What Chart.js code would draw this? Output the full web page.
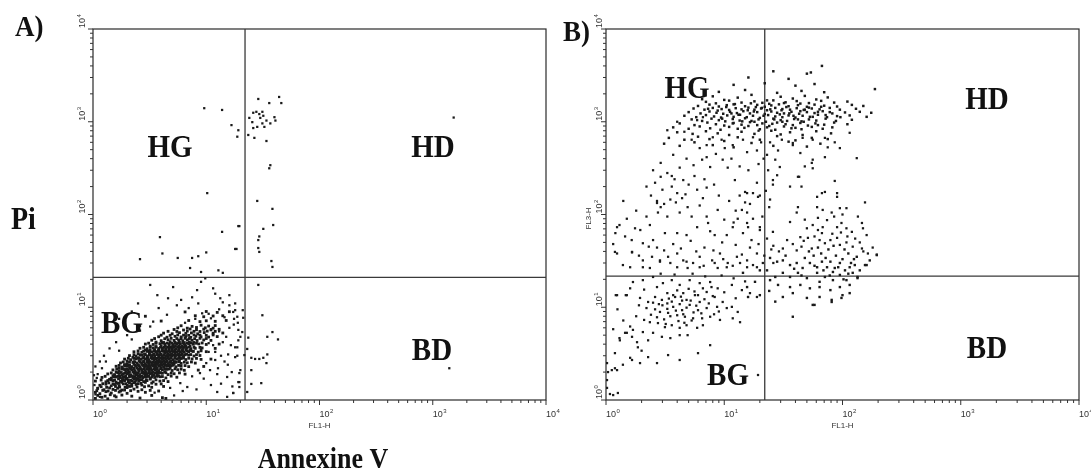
<!DOCTYPE html>
<html>
<head>
<meta charset="utf-8">
<script src="https://cdn.jsdelivr.net/npm/chart.js@4.4.1/dist/chart.umd.min.js"></script>
<style>
  body { margin: 0; background: #fff; width: 1091px; height: 476px; position: relative; overflow: hidden; }
  canvas { position: absolute; top: 0; }
</style>
</head>
<body>
<canvas id="panelA" width="560" height="476" style="left:0"></canvas>
<canvas id="panelB" width="531" height="476" style="left:560px"></canvas>
<script>
// axis: 4-decade log scale, FL1-H (Annexine V) vs FL3-H (Pi)
const decades = [1, 10, 100, 1000, 10000];
const decadeExponents = ["0", "1", "2", "3", "4"];
const quadrantNames = ["HG", "HD", "BG", "BD"];
const gateA = [22, 21];
const gateB = [22, 21.7];

// ---- panel A events [FL1, FL3] ----
const aBGCluster = [
  [1.05,1.04],[1.2,1.07],[1.35,1.03],[1.6,1.08],[2.6,1.05],[4.1,1.06],[4.4,1.04],
  [1.05,1.21],[1.15,1.17],[1.3,1.23],[1.45,1.19],[1.7,1.22],[2.0,1.18],[2.9,1.21],
  [1.1,1.33],[1.25,1.29],[1.4,1.35],[1.5,1.3],[1.65,1.34],[1.8,1.28],[2.0,1.36],[2.3,1.31],[2.7,1.29],
  [1.15,1.44],[1.3,1.48],[1.45,1.42],[1.55,1.47],[1.7,1.43],[1.85,1.49],[2.0,1.44],[2.2,1.41],[2.4,1.47],[2.7,1.45],[3.1,1.42],[3.6,1.48],
  [1.38,1.53],[1.62,1.51],[1.8,1.55],[2.1,1.52],[2.3,1.54],[2.5,1.5],[2.9,1.55],
  [1.05,1.6],[1.3,1.57],[1.5,1.61],[1.6,1.56],[1.75,1.59],[1.9,1.62],[2.05,1.57],[2.2,1.6],[2.35,1.56],[2.55,1.61],[2.8,1.58],[3.0,1.62],[3.4,1.57],[3.9,1.6],[4.6,1.58],
  [1.4,1.67],[1.55,1.64],[1.68,1.69],[1.82,1.65],[1.97,1.68],[2.15,1.63],[2.3,1.67],[2.5,1.7],[2.7,1.65],[3.2,1.68],
  [1.2,1.75],[1.45,1.72],[1.6,1.77],[1.75,1.73],[1.85,1.76],[2.0,1.71],[2.1,1.78],[2.25,1.74],[2.4,1.72],[2.6,1.77],[2.75,1.73],[2.95,1.76],[3.2,1.71],[3.5,1.75],[3.9,1.78],[4.4,1.73],[5.5,1.76],
  [1.5,1.83],[1.65,1.8],[1.8,1.85],[1.95,1.81],[2.1,1.84],[2.25,1.79],[2.4,1.86],[2.55,1.82],[2.7,1.8],[2.9,1.85],[3.1,1.81],[3.35,1.84],[3.8,1.82],
  [1.35,1.91],[1.55,1.88],[1.7,1.93],[1.85,1.89],[2.0,1.92],[2.15,1.87],[2.3,1.94],[2.45,1.9],[2.6,1.88],[2.8,1.93],[3.0,1.89],[3.2,1.92],[3.45,1.87],[3.7,1.91],[4.1,1.94],[4.6,1.88],[5.2,1.92],[6.5,1.9],
  [1.6,2.01],[1.78,1.98],[1.95,2.03],[2.1,1.99],[2.25,2.02],[2.4,1.97],[2.55,2.04],[2.75,2.0],[2.95,1.98],[3.15,2.03],[3.4,1.99],[3.65,2.02],[3.95,1.97],[4.3,2.01],
  [1.5,2.11],[1.7,2.07],[1.9,2.13],[2.05,2.09],[2.2,2.12],[2.35,2.06],[2.5,2.14],[2.7,2.1],[2.9,2.08],[3.1,2.13],[3.3,2.09],[3.55,2.12],[3.8,2.07],[4.1,2.11],[4.5,2.14],[5.0,2.08],[5.6,2.12],[6.4,2.09],[8.5,2.1],
  [1.7,2.21],[1.85,2.18],[2.1,2.23],[2.3,2.19],[2.45,2.22],[2.65,2.17],[2.85,2.24],[3.05,2.2],[3.25,2.18],[3.5,2.23],[3.7,2.19],[4.0,2.22],[4.35,2.17],[4.8,2.21],
  [1.6,2.31],[1.8,2.27],[2.0,2.33],[2.2,2.29],[2.4,2.32],[2.6,2.26],[2.8,2.34],[3.0,2.3],[3.2,2.28],[3.4,2.33],[3.6,2.29],[3.9,2.32],[4.2,2.27],[4.5,2.31],[4.9,2.34],[5.4,2.28],[6.0,2.32],[7.0,2.29],[9.5,2.3],
  [1.9,2.41],[2.1,2.37],[2.3,2.43],[2.5,2.39],[2.7,2.42],[2.9,2.36],[3.1,2.44],[3.3,2.4],[3.5,2.38],[3.7,2.43],[3.95,2.39],[4.2,2.42],[4.5,2.37],[4.8,2.41],[5.2,2.44],
  [1.75,2.51],[2.0,2.47],[2.25,2.54],[2.45,2.49],[2.7,2.52],[2.9,2.46],[3.1,2.55],[3.3,2.5],[3.5,2.48],[3.75,2.53],[4.0,2.49],[4.3,2.52],[4.6,2.47],[5.0,2.51],[5.4,2.55],[6.0,2.48],[6.8,2.52],[8.0,2.5],
  [2.0,2.63],[2.3,2.59],[2.55,2.66],[2.8,2.61],[3.0,2.64],[3.2,2.58],[3.45,2.67],[3.7,2.62],[3.95,2.6],[4.2,2.65],[4.5,2.61],[4.85,2.64],[5.3,2.59],[5.8,2.63],
  [1.9,2.76],[2.15,2.72],[2.4,2.79],[2.65,2.74],[2.9,2.77],[3.1,2.71],[3.35,2.8],[3.6,2.75],[3.85,2.73],[4.1,2.78],[4.4,2.74],[4.7,2.77],[5.1,2.72],[5.5,2.76],[6.0,2.8],[6.6,2.73],[7.5,2.77],[9.0,2.74],[11,2.76],
  [2.25,2.89],[2.55,2.85],[2.8,2.92],[3.05,2.87],[3.3,2.9],[3.55,2.84],[3.8,2.93],[4.05,2.88],[4.3,2.86],[4.6,2.91],[4.9,2.87],[5.3,2.9],[5.7,2.85],[6.2,2.89],
  [2.1,3.01],[2.4,2.97],[2.7,3.04],[3.0,2.99],[3.25,3.02],[3.5,2.96],[3.8,3.05],[4.1,3.0],[4.4,2.98],[4.7,3.03],[5.0,2.99],[5.4,3.02],[5.8,2.97],[6.3,3.01],[7.0,3.04],[7.8,2.98],[8.8,3.02],
  [2.5,3.16],[2.85,3.12],[3.15,3.19],[3.45,3.14],[3.7,3.17],[4.0,3.11],[4.3,3.2],[4.6,3.15],[4.95,3.13],[5.3,3.18],[5.7,3.14],[6.1,3.17],[6.7,3.12],
  [2.3,3.31],[2.7,3.27],[3.0,3.34],[3.3,3.29],[3.6,3.32],[3.9,3.26],[4.2,3.35],[4.5,3.3],[4.8,3.28],[5.1,3.33],[5.5,3.29],[5.9,3.32],[6.4,3.27],[7.0,3.31],[7.7,3.34],[8.5,3.28],[10,3.32],
  [2.9,3.46],[3.2,3.42],[3.5,3.49],[3.8,3.44],[4.1,3.47],[4.4,3.41],[4.7,3.5],[5.0,3.45],[5.3,3.43],[5.7,3.48],[6.1,3.44],[6.6,3.47],[7.2,3.42],
  [2.6,3.61],[3.0,3.57],[3.4,3.64],[3.8,3.59],[4.1,3.62],[4.4,3.56],[4.7,3.65],[5.0,3.6],[5.4,3.58],[5.8,3.63],[6.2,3.59],[6.7,3.62],[7.3,3.57],[8.0,3.61],[9.2,3.64],[12,3.6],
  [3.2,3.81],[3.6,3.77],[4.0,3.84],[4.35,3.79],[4.7,3.82],[5.0,3.76],[5.35,3.85],[5.7,3.8],[6.1,3.78],[6.6,3.83],[7.2,3.79],
  [2.9,4.01],[3.4,3.97],[3.9,4.05],[4.3,3.99],[4.7,4.03],[5.1,3.96],[5.5,4.06],[5.9,4.0],[6.4,3.98],[7.0,4.04],[7.7,3.99],[8.6,4.02],[10,3.97],[13,4.01],
  [3.6,4.21],[4.2,4.17],[4.8,4.25],[5.3,4.19],[5.8,4.23],[6.4,4.16],[7.1,4.22],
  [3.3,4.41],[4.0,4.36],[4.6,4.45],[5.2,4.39],[5.7,4.43],[6.2,4.35],[6.8,4.46],[7.5,4.4],[8.3,4.38],[9.5,4.44],[11,4.39],
  [3.8,4.81],[4.5,4.75],[5.3,4.86],[6.0,4.79],[6.6,4.84],[7.3,4.74],[8.1,4.87],[9.0,4.8],[10.5,4.77],[12.5,4.83],
  [4.2,5.26],[5.0,5.18],[5.8,5.32],[6.6,5.22],[7.4,5.29],[8.4,5.17],[9.6,5.33],[11.5,5.24],[14,5.28],
  [5.2,5.76],[6.3,5.68],[7.2,5.83],[8.2,5.72],[9.5,5.8],[11,5.7],[13,5.78],
  [6.0,6.32],[7.5,6.22],[9.0,6.4],[10.5,6.27],[12,6.35],
  [4.0,7.1],[7.0,7.2],[8.8,7.0],[10,7.15],[12,7.05],[15,7.2],
  [2.9,8.0],[8.0,8.1],[9.5,7.9],[11.5,8.05],[14,8.1],
  [6.5,8.9],[10,9.0],[12.5,8.8],[16,8.95]
];
const aBGCoreFill = [
  [1.1,1.12],[1.28,1.1],[1.42,1.14],[1.55,1.11],[1.8,1.13],[2.2,1.1],[3.3,1.12],
  [1.08,1.26],[1.22,1.27],[1.36,1.25],[1.58,1.27],[1.75,1.25],[1.9,1.28],[2.15,1.26],[2.5,1.24],[3.2,1.27],[3.8,1.25],
  [1.18,1.39],[1.32,1.37],[1.58,1.4],[1.72,1.38],[1.92,1.37],[2.1,1.4],[2.45,1.38],[2.85,1.39],[3.3,1.37],[4.2,1.4],
  [1.22,1.5],[1.5,1.49],[1.7,1.52],[1.95,1.5],[2.2,1.48],[2.65,1.51],[3.3,1.52],[4.0,1.49],
  [1.18,1.64],[1.35,1.62],[1.45,1.65],[1.85,1.66],[2.05,1.64],[2.42,1.63],[2.6,1.66],[2.95,1.64],[3.6,1.65],[4.2,1.62],
  [1.28,1.8],[1.52,1.78],[1.72,1.8],[1.92,1.77],[2.18,1.81],[2.33,1.79],[2.5,1.8],[2.85,1.78],[3.05,1.8],[3.3,1.77],[3.65,1.8],[4.1,1.79],[4.9,1.81],
  [1.45,1.96],[1.65,1.97],[1.9,1.95],[2.05,1.97],[2.33,1.95],[2.5,1.96],[2.7,1.97],[2.9,1.95],[3.1,1.96],[3.3,1.97],[3.55,1.95],[3.85,1.96],[4.4,1.97],[4.9,1.95],[5.8,1.96],
  [1.62,2.16],[1.8,2.15],[1.98,2.17],[2.15,2.15],[2.3,2.16],[2.6,2.17],[2.8,2.15],[3.0,2.16],[3.2,2.17],[3.45,2.15],[3.65,2.16],[3.95,2.17],[4.3,2.15],[4.7,2.16],[5.3,2.17],[6.0,2.15],
  [1.7,2.36],[1.9,2.35],[2.1,2.37],[2.35,2.36],[2.55,2.35],[2.75,2.37],[2.95,2.36],[3.15,2.35],[3.35,2.37],[3.55,2.36],[3.8,2.35],[4.05,2.37],[4.35,2.36],[4.7,2.35],[5.1,2.37],[5.7,2.36],[6.5,2.35],
  [1.85,2.57],[2.1,2.56],[2.35,2.58],[2.6,2.56],[2.8,2.57],[3.0,2.56],[3.2,2.58],[3.4,2.56],[3.6,2.57],[3.85,2.56],[4.1,2.58],[4.4,2.56],[4.75,2.57],[5.2,2.56],[5.7,2.58],[6.4,2.56],[7.4,2.57],
  [2.05,2.82],[2.3,2.81],[2.5,2.83],[2.75,2.82],[3.0,2.81],[3.25,2.83],[3.45,2.82],[3.7,2.81],[3.95,2.83],[4.25,2.82],[4.55,2.81],[4.85,2.83],[5.3,2.82],[5.8,2.81],[6.3,2.83],[7.0,2.82],[8.2,2.81],
  [2.3,3.08],[2.6,3.07],[2.9,3.09],[3.15,3.08],[3.4,3.07],[3.65,3.09],[3.95,3.08],[4.25,3.07],[4.55,3.09],[4.85,3.08],[5.2,3.07],[5.6,3.09],[6.0,3.08],[6.5,3.07],[7.3,3.09],[8.2,3.08],
  [2.5,3.38],[2.8,3.37],[3.15,3.39],[3.45,3.38],[3.75,3.37],[4.05,3.39],[4.35,3.38],[4.65,3.37],[4.95,3.39],[5.3,3.38],[5.7,3.37],[6.2,3.39],[6.8,3.38],[7.5,3.37],[9,3.39],
  [2.8,3.7],[3.2,3.69],[3.6,3.71],[3.95,3.7],[4.25,3.69],[4.55,3.71],[4.85,3.7],[5.2,3.69],[5.6,3.71],[6.0,3.7],[6.4,3.69],[7.0,3.71],[7.8,3.7],[8.8,3.69],
  [3.1,4.1],[3.6,4.09],[4.1,4.12],[4.5,4.1],[4.95,4.09],[5.3,4.12],[5.7,4.1],[6.2,4.09],[6.8,4.12],[7.4,4.1],[8.2,4.09],[9.2,4.12],
  [3.5,4.6],[4.3,4.58],[4.9,4.62],[5.5,4.6],[6.0,4.58],[6.5,4.62],[7.1,4.6],[7.9,4.58],[8.8,4.62],[10,4.6],
  [4.0,5.0],[4.8,4.98],[5.6,5.03],[6.3,5.0],[7.0,4.98],[7.8,5.03],[8.8,5.0],[10,4.98],[11.5,5.03],
  [4.6,5.5],[5.5,5.48],[6.8,5.53],[7.8,5.5],[8.8,5.48],[10.2,5.53],[12,5.5],
  [5.6,6.0],[6.8,5.95],[8.2,6.05],[9.8,6.0],[11.5,5.95]
];
const aBGHalo = [
  [6.5,3.9],[7.8,4.2],[9,3.5],[10.5,4.1],[12,3.3],[13,5.5],[15,4.8],[16.5,3.9],[17.5,6.5],[14.5,7.8],
  [11,7.6],[9.2,8.6],[13,9.5],[16,10.5],[7,9.8],[5.5,10.5],[4.5,8.3],[3.4,7.0],[2.6,6.3],[2.0,5.0],
  [1.6,4.2],[1.4,3.6],[1.25,3.0],[1.15,2.6],[1.05,2.3],[1.02,1.85],[1.03,1.45],[1.05,1.15],[7.5,1.8],[9.5,1.7],
  [11,1.45],[8.2,1.3],[6.2,1.25],[5.2,1.12],[3.5,1.2],[4.8,1.35],[12.5,1.9],[14.5,2.6],[16.8,2.0],[18,2.9],
  [17,1.4],[10,2.5],[13.5,3.0],[11.5,3.9],[20,4.8],[19,6.8],[18,11],[16,13.5],[12,14],[8.5,11],
  [6,12],[4.6,12.5],[2.2,9],[1.7,7.5],[1.3,5.5],[6.5,6.8],[8,7.5],[10.5,8.5]
];
const aBGSparse = [
  [3.2,17.4],[5.1,16.5],[3.7,13.5],[2.5,11],[3.8,9.8],[7.5,12.8],[9.0,18.8],[9.8,20.5],[8.3,15.3],[11.5,16],
  [13.3,12.5],[14,11.3],[17.3,8.9],[18.8,7.9],[19.2,5.7],[19.2,4.4],[18.8,3.7],[15.6,3.1],[20,2.1],[19.6,1.56],
  [19.6,1.38],[17.3,1.19],[15.3,1.77],[12.7,2.2],[10.8,2.1],[8.8,1.95],[5.9,1.52],[6.8,1.38],[12.5,1.22],[15.3,1.08],
  [1.08,1.73],[1.1,1.35],[1.15,1.08],[1.3,2.6],[1.2,2.2],[1.1,1.9],[2.2,4.5],[1.7,3.4],[2.6,5.6],[3.2,6.2],
  [10.5,3.3],[12,2.7],[14,4.2],[16,6.0],[11,5.8],[15.5,2.4],[13.5,1.5]
];
const aHGEvents = [
  [2.6,33],[4.1,38],[5.6,34],[7.5,34],[8.5,35.5],[10,39],[7.2,26.5],[9.0,24],[12.8,25],[14,23.5],
  [18.5,42.5],[3.9,57],[13.8,65],[19.6,75],[10.2,170],[9.6,1400],[13.8,1340],[16.7,920],[19.2,810],[18.8,690]
];
const aHDEvents = [
  [28.8,1760],[44,1850],[46,1590],[36,1590],[26,1250],[27.7,1280],[29.4,1210],[31.3,1280],[31.9,1160],[24,1100],
  [25.5,990],[26,855],[28.2,880],[31.3,960],[32.6,880],[36.8,960],[40,1120],[40.8,1030],[34,620],[23.5,720],
  [26.6,670],[30,1100],[34,1030],[36.8,340],[36,315],[28.2,140],[38.4,115],[39,77],[31.9,70],[29.4,58],
  [28.8,53],[28.8,43.5],[29.4,39.5],[37.6,31.5],[38.4,27.2],[1530,1110],[18,42.5],[19.2,75]
];
const aBDEvents = [
  [28.8,17.4],[31.3,8.2],[18,9.3],[17.6,7.5],[21.2,7.7],[20.8,5.4],[38.4,5.4],[43,4.5],[34.6,4.8],[23.5,4.7],
  [23,3.55],[25,2.85],[27,2.77],[29.4,2.77],[31.9,2.85],[34.6,3.1],[34,2.5],[18.8,3.0],[18,3.7],[19.6,1.95],
  [25,2.1],[19.2,1.56],[30.6,1.52],[25,1.49],[17.3,1.19],[23,1.22],[21.7,3.05],[21,9.3],[1400,2.2]
];

// ---- panel B events [FL1, FL3] ----
const bBand = [
  [6.5,1750],[8,1880],[10,1720],[13,1820],[17,1950],[23,1700],[30,1860],[38,1780],[48,1900],[60,1740],[75,1830],
  [7,1640],[8.5,1580],[11,1690],[14,1610],[18,1660],[21,1600],[26,1700],[33,1620],[41,1670],[52,1590],[66,1680],[85,1610],[110,1650],
  [6,1480],[7.5,1530],[9,1460],[10.5,1510],[12,1540],[15,1470],[19,1520],[22,1450],[25,1500],[29,1540],[35,1470],[42,1510],[50,1450],[58,1530],[70,1490],[90,1460],[120,1520],[150,1480],
  [5.5,1390],[6.8,1350],[8,1410],[9.5,1370],[11,1340],[12.5,1400],[14,1360],[16,1420],[18,1350],[20.5,1390],[23,1330],[27,1410],[31,1370],[36,1350],[41,1400],[47,1340],[55,1390],[64,1360],[78,1410],[95,1350],[130,1380],
  [5,1270],[6.3,1230],[7.5,1290],[8.6,1250],[9.8,1220],[11.2,1280],[12.8,1240],[14.5,1300],[16.5,1230],[19,1270],[22,1210],[25,1290],[28,1250],[32,1230],[37,1280],[43,1220],[50,1270],[58,1240],[68,1300],[82,1230],[105,1260],[140,1280],[175,1250],
  [4.6,1160],[5.8,1120],[7,1180],[8.2,1140],[9.4,1110],[10.6,1170],[12,1130],[13.6,1190],[15.5,1120],[17.5,1160],[20,1100],[23.5,1180],[27,1140],[31,1120],[35,1170],[40,1110],[46,1160],[53,1130],[62,1190],[74,1120],[90,1150],[115,1170],[160,1130],
  [5.3,1060],[6.5,1020],[7.8,1080],[9,1040],[10.2,1010],[11.8,1070],[13.5,1030],[15,1090],[17,1020],[19.5,1060],[22.5,1000],[26,1080],[30,1040],[34,1020],[39,1070],[45,1010],[52,1060],[60,1030],[72,1080],[88,1020],[120,1050],
  [4.2,960],[5.6,920],[7.2,980],[8.5,940],[10,910],[12,970],[14,930],[16.5,990],[19,920],[21,960],[24,900],[28,980],[33,940],[38,920],[44,970],[51,910],[59,960],[70,930],[85,980],[110,940],
  [3.7,870],[5,840],[6.2,890],[7.6,850],[9.3,820],[11,880],[13,840],[16,900],[20,830],[23,870],[27,820],[32,890],[37,850],[45,830],[55,880],[68,840],[82,870],
  [4,770],[5.4,740],[7,790],[8.8,750],[11,720],[14,780],[18,740],[25,800],[30,730],[36,770],[46,720],[60,790],[80,750],
  [3.4,670],[4.6,640],[6,690],[7.5,650],[10,620],[13,680],[20,640],[28,700],[40,630],[55,670],[75,650],
  [3.1,580],[4.2,550],[5.6,600],[8,560],[12,530],[17,590],[26,550],[35,610],[50,540],[65,580],
  [9,2100],[15,2200],[28,2050],[45,2150],[70,2080],[12,2500],[22,2600],[40,2450],[58,2550],[16,3000],
  [35,2900],[26,3500],[50,3300],[67,4000],[54,3400],[188,2250],
  [8.8,1320],[10.4,1440],[13.2,1190],[15.8,1330],[18.5,1440],[21.5,1160],[24.5,1360],[29.5,1200],[33.5,1440],[38.5,1160],
  [44,1300],[52,1420],[62,1280],[72,1180],[9.6,1080],[11.5,1230],[14.2,1010],[17.8,1290],[20.8,1410],[26.5,1060],
  [30.5,1330],[35.5,1230],[42,1060],[48,1350],[56,1130],[66,1450],[78,1270],[96,1120],[7.3,1380],[12.3,1550],
  [16.8,1580],[24,1560],[32,1590],[44,1570],[25.5,950],[31,1000],[40,860],[47,1000],[62,920],[18,1000],[14.8,860],[11.8,960]
];
const bStream = [
  [3.3,810],[4.0,1000],[4.6,780],[5.3,640],[5.9,1040],[6.6,1120],[6.2,520],[7.1,560],[8.0,680],[9.5,640],
  [10.1,520],[11.8,560],[14.4,640],[17.5,680],[18.9,490],[15.6,470],[6.5,390],[7.6,325],[7.1,415],[9.7,390],
  [10.7,320],[12.3,235],[15,175],[18.9,220],[19.3,155],[2.5,300],[2.9,255],[3.3,280],[3.6,200],[4.2,320],
  [4.5,235],[4.0,170],[4.7,165],[3.5,145],[2.9,120],[4.9,120],[5.9,185],[7.1,195],[6.2,125],[5.3,95],
  [7.1,95],[8.8,112],[4.2,105],[3.3,95],[2.75,105],[2.2,95],[2.35,77],[1.95,68],[1.3,77],[1.2,63],
  [1.65,53],[2.05,49],[2.5,53],[3.15,63],[4.0,63],[4.8,60],[5.9,73],[7.3,81],[8.3,60],[11.8,73],
  [15.6,105],[14.4,63],[17,53],[20,73],[1.24,38],[1.66,39],[2.05,32],[2.45,35],[2.86,32],[3.35,35],
  [3.5,30],[4.0,38],[4.5,32],[5.45,30],[6.2,35],[7.9,32],[9.2,38],[10.7,30],[12.8,35],[15.6,32],
  [18.9,38],[21.2,30],[18.9,27],[15.6,27],[8.8,26.5],[4.9,26.5],[2.35,26.5],[1.6,27],[1.24,73],[1.76,71],
  [2.6,220],[3.0,185],[3.8,240],[2.4,160],[3.1,130],[3.9,135],[2.7,140],[4.4,150],[3.6,260],[2.2,200],
  [5.0,210],[5.6,260],[6.8,240],[8.2,210],[9.0,160],[11,140],[12.5,110],[13.5,160],[16.5,130],[17.5,90],
  [10,88],[12,82],[6.6,150],[5.5,340],[4.8,400],[8.5,450],[11.5,400],[13.5,330],[16,300],[19.5,350],
  [20.5,600],[19.5,800],[3.7,440],[2.9,360],[1.8,110],[1.5,90],[1.4,140],[1.15,48],[1.45,58],[2.7,44],
  [3.7,48],[6.8,44],[9.6,50],[12.5,47],[16.5,44],[19.5,48],[5.2,52],[7.6,66],[10.5,60],[13,90],
  [9.8,33],[11.8,28],[14.1,37],[3.1,41],[2.3,45],[1.9,36],[6.7,28],[5.8,40],[4.3,43],[8.1,41],
  [2.7,133],[21.5,400],[23.5,300],[22.5,180],[24,120],[21,95],[23,55],[25,42],[21.8,36],[26,30]
];
const bHDLow = [
  [24.4,600],[30.7,640],[38,590],[46,670],[56,640],[71,670],[86,600],[95,520],[75,530],[115,760],
  [28.5,490],[38,560],[132,405],[44,460],[56,390],[71,415],[23,440],[27,390],[29.5,325],[48,330],
  [55,360],[56,315],[28,265],[42,255],[25.8,235],[25.8,210],[36,200],[45,200],[43,255],[86,230],
  [15.6,170],[17.5,170],[20,160],[15,135],[14.1,112],[24.4,145],[67,170],[71,175],[61,155],[90,170],
  [90,155],[155,135],[42,120],[41,105],[61,120],[68,112],[81,105],[95,117],[108,117],[74,87],
  [98,81],[36,83],[15.6,81],[15.9,73],[20,68],[25.8,65],[50,71],[56,77],[62,68],[68,73],
  [90,73],[108,71],[146,81],[149,71],[34,53],[44,57],[51,56],[31.3,43],[41,41],[45,45],
  [55,43],[64,53],[71,49],[79,53],[90,56],[95,47],[108,50],[122,45],[146,43],[164,38],[195,37],
  [38,48],[47,52],[58,58],[67,63],[82,62],[97,64],[110,58],[128,55],[140,50],[150,40],
  [180,44],[120,65],[85,95],[62,92],[48,88],[100,100],[135,95],[160,60],[26,46],[29,40]
];
const bBDCluster = [
  [24.4,34],[28,31],[31.3,32],[36,28.5],[41,30],[46,26.5],[53,30],[61,27],[67,31],[74,27],
  [79,31],[86,26.5],[95,30],[105,25],[115,27],[127,28.5],[140,25],[155,28.5],[61,23.5],[71,21.2],
  [83,24],[95,22.3],[108,19.6],[122,23.5],[134,20.6],[83,19.6],[64,18.8],[50,20.6],[42,23.5],[36,21.2],
  [31.3,23.5],[27,21.2],[23,25],[24.4,19.6],[28.5,17.4],[36,16.5],[44,17.4],[53,16],[64,16.5],[79,15.3],
  [95,16.5],[115,17.4],[50,12.6],[64,12.9],[81,12],[100,13.5],[58,10.6],[31.3,12.9],[38,14.2],[20,13.5],
  [15.9,12.9],[15.6,16.5],[18.2,18.8],[14.4,23.5],[20,25],[56,10.6],[81,11.4],[98,12.6],[115,14.2],[134,21.2],
  [160,28.5],[195,36.5],[38,7.9],[48,34],[57,36],[66,38],[72,34],[88,36],[100,33],[112,38],
  [125,33],[52,40],[62,44],[76,42],[84,46],[104,42],[118,30],[132,35],[58,28],[69,25],
  [78,22],[92,27],[102,20],[112,23],[45,22],[39,26],[33,36],[170,32],[24,15],[27,11.5]
];
const bBGCluster = [
  [1.39,28.5],[1.69,18.7],[2.05,19.6],[2.5,21.2],[3.03,18.2],[3.6,19.6],[4.2,17.4],[5.1,19.6],[6.2,18.2],[7.6,18.7],
  [8.8,16],[11.6,17.4],[14.1,15.3],[16.5,14.2],[18.9,12.9],[1.21,13.5],[1.47,13.5],[1.94,12.6],[2.27,11.4],[2.6,12.9],
  [2.97,12],[3.3,14.2],[3.84,12.9],[4.5,14.2],[4.8,12],[5.65,13.5],[6.2,11.4],[7.1,14.6],[8.3,12.9],[9.7,11.4],
  [11.6,10.1],[13,8.9],[10.5,9.8],[8.7,10.1],[7.1,9.8],[6,9.3],[5.1,10.6],[4.4,9.3],[3.7,10.1],[3.3,11],
  [2.86,8.9],[3.35,8.7],[4.0,8.2],[4.65,7.9],[5.45,7.6],[6.5,7.6],[7.6,7.9],[9.2,7.3],[11.8,7.6],[13.6,6.9],
  [2.35,6.9],[2.75,6.75],[3.15,6.1],[3.6,6.4],[4.2,6.0],[4.8,6.4],[5.9,6.0],[6.6,6.4],[2.05,5.4],[2.5,5.3],
  [2.97,4.8],[3.5,4.65],[4.2,5.0],[4.9,5.0],[1.66,4.8],[1.45,5.3],[1.31,4.4],[1.83,4.2],[2.27,4.4],[7.6,3.9],
  [6.0,3.2],[3.35,3.05],[4.2,2.7],[2.27,2.9],[1.94,2.5],[1.66,2.7],[1.39,2.4],[1.19,2.2],[1.12,2.1],[19.3,1.86],
  [1.15,1.13],[1.26,1.19],[1.02,2.5],[1.04,2.0],[1.02,1.64],[1.02,1.35],[1.08,1.16],[1.19,3.2],[1.24,2.1],[1.6,2.85],
  [2.7,2.5],[1.3,4.65],[1.5,5.3],[1.69,5.7],[1.86,3.7],[1.24,13.5],[1.5,13.5],[1.19,39.5],[1.66,39.5],
  [3.0,10.5],[3.3,9.6],[3.6,11.5],[3.9,9.2],[4.2,10.8],[4.5,8.4],[4.8,9.9],[5.2,11.8],[5.5,8.8],[3.1,7.4],
  [3.5,8.0],[4.1,7.1],[4.4,11.8],[2.6,9.5],[2.8,10.8],[2.4,8.3],[5.8,10.4],[6.4,8.6],[6.8,12.2],[2.2,9.8],
  [3.7,13.5],[4.0,15.2],[5.0,15.8],[4.6,6.8],[3.2,6.6],[2.7,7.8],[5.3,7.2],[6.0,13.5],[7.4,11.0],[8.0,13.2],
  [2.1,7.3],[1.8,8.0],[1.9,10.5],[2.5,11.2],[3.4,12.4],[4.3,13.0],[5.6,14.8],[6.6,16.0],[7.8,16.5],
  [2.86,31],[4.0,27],[4.8,31],[6.2,27],[8.3,30],[10.5,27],[13.6,30],[17.5,28.5],[2.05,27],
  [2.9,23],[3.8,22.5],[5.4,23],[6.9,21.5],[9.5,22],[12,20.5],[15,19],[10,14.5],[12.5,12.5],[9,9],
  [8.2,8.4],[1.6,16],[2.1,15.5],[2.7,16.5],[1.25,9.5],[1.4,7.2],[1.6,6.2],[1.15,5.8],[2.0,3.4]
];

const serif = '"Liberation Serif", "Times New Roman", serif';
const sans = '"Liberation Sans", Arial, sans-serif';

function drawText(ctx, t) {
  ctx.save();
  ctx.font = t.font;
  ctx.fillStyle = t.color || '#111';
  ctx.textAlign = t.align || 'center';
  ctx.textBaseline = 'alphabetic';
  ctx.translate(t.x, t.y);
  if (t.rotate) ctx.rotate(t.rotate);
  ctx.scale(1, t.stretch || 1);
  ctx.fillText(t.text, 0, 0);
  ctx.restore();
}

// "10" with a raised exponent, optionally rotated to read bottom-to-top
function drawPower(ctx, x, y, exp, vertical) {
  ctx.save();
  ctx.fillStyle = '#333';
  ctx.textBaseline = 'alphabetic';
  ctx.textAlign = 'left';
  ctx.translate(x, y);
  if (vertical) ctx.rotate(-Math.PI / 2);
  ctx.font = '9px ' + sans;
  ctx.fillText('10', 0, 0);
  const w = ctx.measureText('10').width;
  ctx.font = '6px ' + sans;
  ctx.fillText(exp, w + 0.5, -4);
  ctx.restore();
}

function framePlugin(opts) {
  return {
    id: 'cytometryFrame',
    beforeDatasetsDraw(chart) {
      const { ctx, chartArea: a, scales: { x, y } } = chart;
      ctx.save();
      ctx.strokeStyle = '#2a2a2a';
      ctx.lineWidth = 1.2;
      ctx.strokeRect(a.left, a.top, a.right - a.left, a.bottom - a.top);

      // quadrant gate
      const gx = x.getPixelForValue(opts.gate[0]);
      const gy = y.getPixelForValue(opts.gate[1]);
      ctx.strokeStyle = '#3a3a3a';
      ctx.lineWidth = 1.3;
      ctx.beginPath();
      ctx.moveTo(gx, a.top); ctx.lineTo(gx, a.bottom);
      ctx.moveTo(a.left, gy); ctx.lineTo(a.right, gy);
      ctx.stroke();

      // log ticks, outside the frame
      ctx.strokeStyle = '#333';
      ctx.lineWidth = 1;
      ctx.beginPath();
      for (let d = 0; d < decades.length; d++) {
        for (let k = 1; k <= 9; k++) {
          if (d === decades.length - 1 && k > 1) break;
          const v = k * decades[d];
          const len = k === 1 ? 5 : 3;
          const px = x.getPixelForValue(v);
          const py = y.getPixelForValue(v);
          ctx.moveTo(px, a.bottom); ctx.lineTo(px, a.bottom + len);
          ctx.moveTo(a.left, py); ctx.lineTo(a.left - len, py);
        }
      }
      ctx.stroke();
      ctx.restore();
    },
    afterDatasetsDraw(chart) {
      const { ctx, chartArea: a, scales: { x, y } } = chart;
      decades.forEach((v, i) => {
        drawPower(ctx, x.getPixelForValue(v), a.bottom + 17, decadeExponents[i], false);
        drawPower(ctx, a.left - opts.yLabelGap, y.getPixelForValue(v) - 1, decadeExponents[i], true);
      });
      drawText(ctx, { text: 'FL1-H', x: x.getPixelForValue(100), y: a.bottom + 28, font: '8px ' + sans, color: '#333' });
      if (opts.yTitle) {
        drawText(ctx, { text: opts.yTitle, x: a.left - opts.yLabelGap - 11, y: y.getPixelForValue(100) + 4,
          font: '8px ' + sans, color: '#333', rotate: -Math.PI / 2 });
      }
      opts.texts.forEach((t) => drawText(ctx, t));
    }
  };
}

function quadrantFont(size) { return 'bold ' + size + 'px ' + serif; }

// groups: [points, dot radius]
function buildPanel(canvasId, groups, opts) {
  return new Chart(document.getElementById(canvasId), {
    type: 'scatter',
    data: {
      datasets: groups.map(([pts, r]) => ({
        data: pts.map(([fl1, fl3]) => ({ x: fl1, y: fl3 })),
        pointStyle: 'rect',
        pointRadius: r,
        pointHoverRadius: r,
        backgroundColor: '#1a1a1a',
        borderWidth: 0
      }))
    },
    options: {
      responsive: false,
      animation: false,
      events: [],
      layout: { autoPadding: false, padding: opts.padding },
      scales: {
        x: { type: 'logarithmic', min: decades[0], max: decades[decades.length - 1], display: false },
        y: { type: 'logarithmic', min: decades[0], max: decades[decades.length - 1], display: false }
      },
      plugins: { legend: { display: false }, tooltip: { enabled: false } }
    },
    plugins: [framePlugin(opts)]
  });
}

const qf = quadrantFont(29);
const st = 1.12;

buildPanel('panelA', [[aBGCluster, 2.0], [aBGCoreFill, 2.0], [aBGHalo, 1.6], [aBGSparse, 1.6],
  [aHGEvents, 1.6], [aHDEvents, 1.6], [aBDEvents, 1.6]], {
  padding: { left: 93, top: 29, right: 14, bottom: 76 },
  gate: gateA,
  yLabelGap: 8,
  yTitle: null,
  texts: [
    { text: 'A)', x: 15, y: 36, font: quadrantFont(27), align: 'left', stretch: st },
    { text: 'Pi', x: 11, y: 229, font: quadrantFont(28), align: 'left', stretch: st },
    { text: 'Annexine V', x: 323, y: 468, font: quadrantFont(26), stretch: st },
    { text: quadrantNames[0], x: 170, y: 157, font: qf, stretch: st },
    { text: quadrantNames[1], x: 433, y: 157, font: qf, stretch: st },
    { text: quadrantNames[2], x: 122, y: 333, font: qf, stretch: st },
    { text: quadrantNames[3], x: 432, y: 360, font: qf, stretch: st }
  ]
});

buildPanel('panelB', [[bBGCluster, 1.6], [bStream, 1.6], [bBand, 1.75], [bHDLow, 1.6], [bBDCluster, 1.7]], {
  padding: { left: 46, top: 29, right: 12, bottom: 76 },
  gate: gateB,
  yLabelGap: 4,
  yTitle: 'FL3-H',
  texts: [
    { text: 'B)', x: 3, y: 41, font: quadrantFont(27), align: 'left', stretch: st },
    { text: quadrantNames[0], x: 127, y: 98, font: qf, stretch: st },
    { text: quadrantNames[1], x: 427, y: 109, font: qf, stretch: st },
    { text: quadrantNames[2], x: 168, y: 385, font: qf, stretch: st },
    { text: quadrantNames[3], x: 427, y: 358, font: qf, stretch: st }
  ]
});
</script>
</body>
</html>
